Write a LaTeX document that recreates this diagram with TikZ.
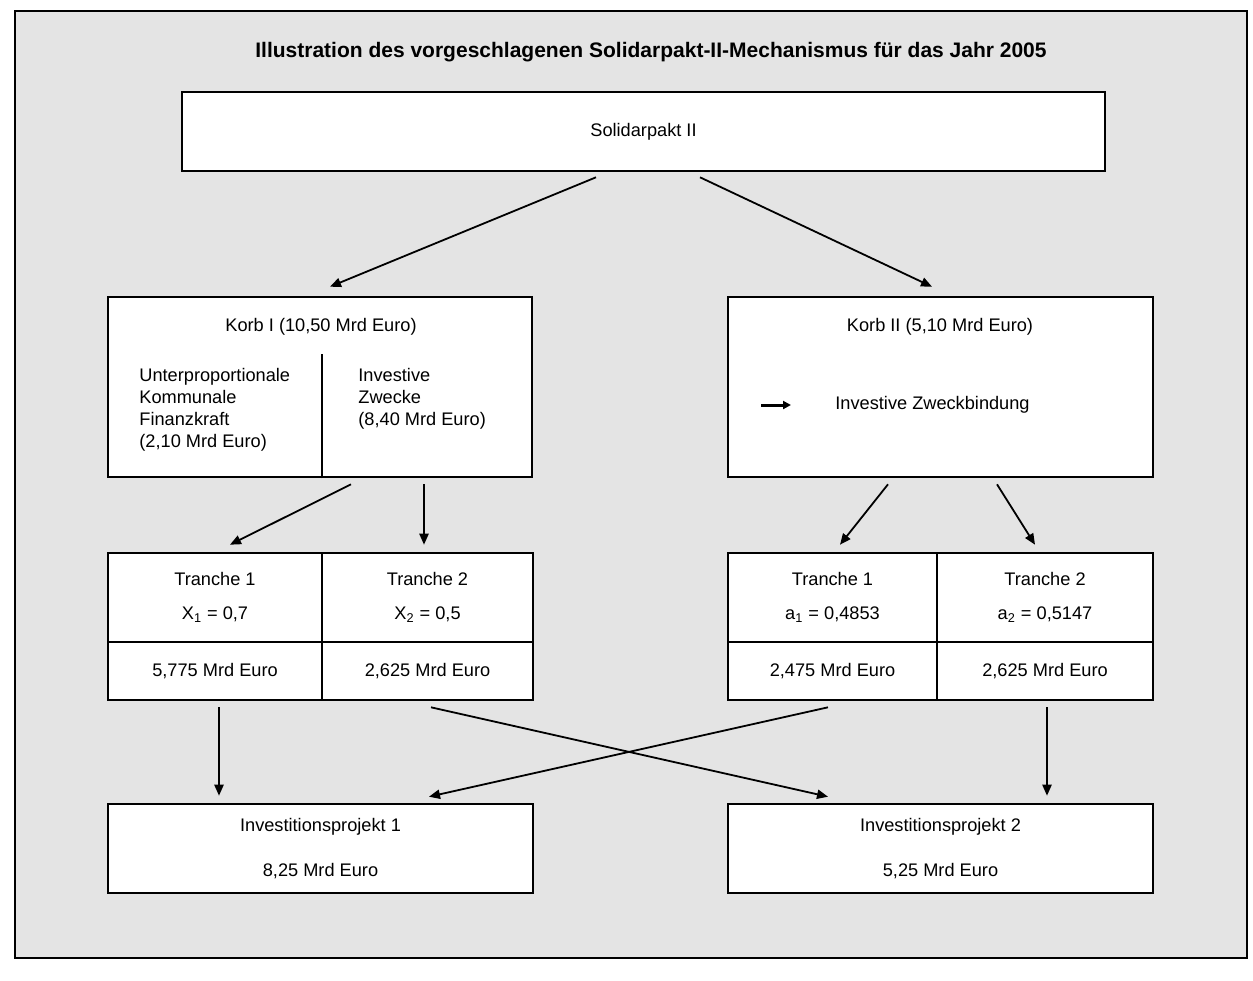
\documentclass[tikz,border=0pt]{standalone}
\usepackage{fontspec}
\setmainfont{Liberation Sans}
\usetikzlibrary{arrows.meta,positioning,calc}
\definecolor{panel}{HTML}{E4E4E4}
\tikzset{
  kbox/.style={rectangle,draw,line width=1.3pt,fill=white,inner sep=0pt,align=center,font=\fontsize{9.1}{11}\selectfont},
  ktext/.style={inner sep=0pt,font=\fontsize{9.1}{11}\selectfont},
  kline/.style={line width=1.3pt},
  de/.style={-{Triangle[length=5.5pt,width=4.6pt]},line width=0.9pt},
  bulletarr/.style={-{Triangle[length=4pt,width=4pt]},line width=1.5pt}
}
\begin{document}
\begin{tikzpicture}[x=0.5pt,y=-0.5pt]
\useasboundingbox (0,0) rectangle (1253,980);
\draw[line width=1pt,fill=panel] (15,11) rectangle (1247,958);
\node[ktext,font=\bfseries\fontsize{10.5}{12}\selectfont] (title) at (651,52) {Illustration des vorgeschlagenen Solidarpakt-II-Mechanismus für das Jahr 2005};
\node[kbox,minimum width=461.5pt,minimum height=39.5pt] (solid) at (643.5,131.5) {Solidarpakt II};

\node[kbox,minimum width=212pt,minimum height=90pt] (korbI) at (320,387) {};
\node[ktext] (korbIt) at (321,327) {Korb I (10,50 Mrd Euro)};
\node[ktext,align=left,anchor=west] (finanz) at (139,410) {Unterproportionale\\Kommunale\\Finanzkraft\\(2,10 Mrd Euro)};
\node[ktext,align=left,anchor=west] (zwecke) at (358,399) {Investive\\Zwecke\\(8,40 Mrd Euro)};
\draw[kline] ($(korbI.south)+(2,0)$) -- ($(korbI.south)+(2,-124)$);

\node[kbox,minimum width=212.5pt,minimum height=90pt] (korbII) at (940.5,387) {};
\node[ktext] (korbIIt) at (940,327) {Korb II (5,10 Mrd Euro)};
\coordinate (bul) at (761,405);
\draw[bulletarr] (bul) -- ++(30,0);
\node[ktext,anchor=west] (bindung) at (835,405) {Investive Zweckbindung};

\node[kbox,minimum width=107pt,minimum height=44.5pt] (t1) at (215,597.5) {Tranche 1\\[6pt]X\textsubscript{1} = 0,7};
\node[kbox,minimum width=105.5pt,minimum height=44.5pt] (t2) at (427.5,597.5) {Tranche 2\\[6pt]X\textsubscript{2} = 0,5};
\node[kbox,minimum width=107pt,minimum height=29pt] (e1) at (215,671) {5,775 Mrd Euro};
\node[kbox,minimum width=105.5pt,minimum height=29pt] (e2) at (427.5,671) {2,625 Mrd Euro};

\node[kbox,minimum width=104.5pt,minimum height=44.5pt] (t3) at (832.5,597.5) {Tranche 1\\[6pt]a\textsubscript{1} = 0,4853};
\node[kbox,minimum width=108pt,minimum height=44.5pt] (t4) at (1045,597.5) {Tranche 2\\[6pt]a\textsubscript{2} = 0,5147};
\node[kbox,minimum width=104.5pt,minimum height=29pt] (e3) at (832.5,671) {2,475 Mrd Euro};
\node[kbox,minimum width=108pt,minimum height=29pt] (e4) at (1045,671) {2,625 Mrd Euro};

\node[kbox,minimum width=212.5pt,minimum height=44.5pt] (inv1) at (320.5,848.5) {Investitionsprojekt 1\\[11.5pt]8,25 Mrd Euro};
\node[kbox,minimum width=212.5pt,minimum height=44.5pt] (inv2) at (940.5,848.5) {Investitionsprojekt 2\\[11.5pt]5,25 Mrd Euro};

\draw[de] ($(solid.south)+(-47.5,5)$) -- ($(korbI.north)+(10,-9)$);
\draw[de] ($(solid.south)+(56.5,5)$) -- ($(korbII.north)+(-8.5,-9)$);
\draw[de] ($(korbI.south)+(31,6)$) -- ($(t1.north)+(15,-7)$);
\draw[de] ($(korbI.south)+(104,6)$) -- ($(t2.north)+(-3.5,-7)$);
\draw[de] ($(korbII.south)+(-52.5,6)$) -- ($(t3.north)+(7.5,-7)$);
\draw[de] ($(korbII.south)+(56.5,6)$) -- ($(t4.north)+(-10,-7)$);
\draw[de] ($(e1.south)+(4,6)$) -- ($(inv1.north)+(-101.5,-7)$);
\draw[de] ($(e2.south)+(3.5,6)$) -- ($(inv2.north)+(-112.5,-6)$);
\draw[de] ($(e3.south)+(-4.5,6)$) -- ($(inv1.north)+(108.5,-6)$);
\draw[de] ($(e4.south)+(2,6)$) -- ($(inv2.north)+(106.5,-7)$);
\end{tikzpicture}
\end{document}
